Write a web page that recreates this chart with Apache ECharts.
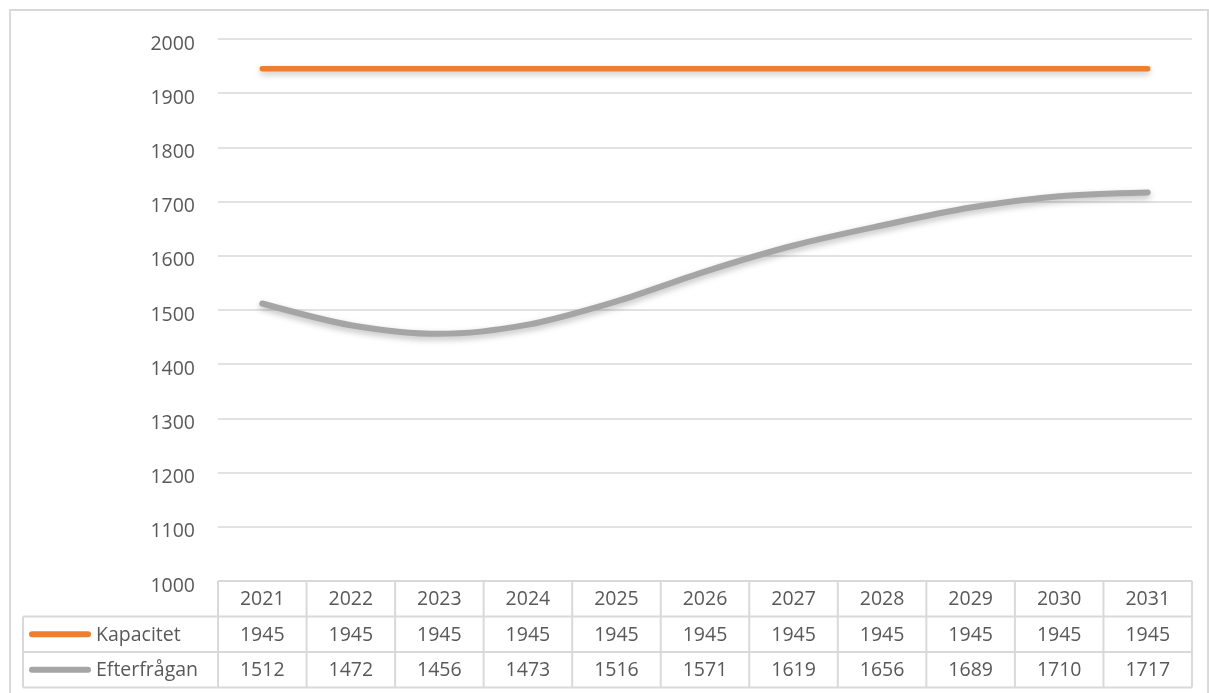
<!DOCTYPE html>
<html>
<head>
<meta charset="utf-8">
<script src="https://cdn.jsdelivr.net/npm/echarts@6/dist/echarts.min.js"></script>
<style>html,body{margin:0;padding:0;background:#fff;}#c{width:1209px;height:693px;}</style>
</head>
<body>
<div id="c"></div>
<script>
const years = ['2021','2022','2023','2024','2025','2026','2027','2028','2029','2030','2031'];
const kapacitet = [1945,1945,1945,1945,1945,1945,1945,1945,1945,1945,1945];
const efterfragan = [1512,1472,1456,1473,1516,1571,1619,1656,1689,1710,1717];
const seriesNames = ['Kapacitet','Efterfrågan'];
const seriesColors = ['#ED7D31','#A5A5A5'];

const FONT = 'Open Sans';
const FS = 19.5;
const TXT = '#595959';
const LINE = '#D9D9D9';

const chart = echarts.init(document.getElementById('c'), null, {renderer:'canvas'});
chart.setOption({
  animation:false,
  backgroundColor:'#fff',
  grid:{left:218,right:17,top:39,bottom:112},
  xAxis:{type:'category',data:years,boundaryGap:true,
    axisLine:{show:false},axisTick:{show:false},axisLabel:{show:false},splitLine:{show:false}},
  yAxis:{type:'value',min:1000,max:2000,interval:100,
    axisLine:{show:false},axisTick:{show:false},
    splitLine:{lineStyle:{color:LINE,width:1.5}},
    axisLabel:{color:TXT,fontFamily:FONT,fontSize:FS,margin:23,
      formatter:function(v){return '{a|'+v+'}';},
      rich:{a:{color:TXT,fontFamily:FONT,fontSize:FS,padding:[10,0,0,0]}}}},
  series:[
    {name:seriesNames[0],type:'line',data:kapacitet,symbol:'none',
      lineStyle:{color:seriesColors[0],width:5.5,cap:'round',shadowColor:'rgba(0,0,0,0.22)',shadowBlur:6,shadowOffsetY:3}},
    {name:seriesNames[1],type:'line',data:efterfragan,symbol:'none',smooth:0.3,
      lineStyle:{color:seriesColors[1],width:6,cap:'round',shadowColor:'rgba(0,0,0,0.25)',shadowBlur:6,shadowOffsetY:3}}
  ]
});

// Build data table below the plot from the same arrays, using axis positions
function buildTable(){
  const els = [];
  const c0 = chart.convertToPixel({xAxisIndex:0}, 0);
  const c1 = chart.convertToPixel({xAxisIndex:0}, 1);
  const w = c1 - c0;
  const top = chart.convertToPixel({yAxisIndex:0}, 1000);
  const rowH = 35.5;
  const leftX = 23;
  const tableL = c0 - w/2;
  const tableR = chart.convertToPixel({xAxisIndex:0}, years.length-1) + w/2;
  const ls = {stroke:LINE,lineWidth:2};
  els.push({type:'line',shape:{x1:tableL,y1:top,x2:tableR,y2:top},style:ls,z:1});
  for(let r=1;r<=3;r++){
    els.push({type:'line',shape:{x1:leftX,y1:top+rowH*r,x2:tableR,y2:top+rowH*r},style:ls,z:1});
  }
  els.push({type:'line',shape:{x1:leftX,y1:top+rowH,x2:leftX,y2:top+rowH*3},style:ls,z:1});
  for(let i=0;i<=years.length;i++){
    const x = tableL + w*i;
    els.push({type:'line',shape:{x1:x,y1:top,x2:x,y2:top+rowH*3},style:ls,z:1});
  }
  const rows = [years, kapacitet, efterfragan];
  rows.forEach((row,r)=>{
    row.forEach((v,i)=>{
      els.push({type:'text',x:chart.convertToPixel({xAxisIndex:0}, i),y:top+rowH*r+rowH/2+1,
        style:{text:String(v),fill:TXT,font:FS+'px "'+FONT+'"',align:'center',verticalAlign:'middle'},z:2});
    });
  });
  seriesNames.forEach((n,k)=>{
    const cy = top+rowH*(k+1)+rowH/2;
    els.push({type:'line',shape:{x1:32,y1:cy,x2:88,y2:cy},style:{stroke:seriesColors[k],lineWidth:6,lineCap:'round'},z:2});
    els.push({type:'text',x:96,y:cy+1,style:{text:n,fill:TXT,font:FS+'px "'+FONT+'"',align:'left',verticalAlign:'middle'},z:2});
  });
  els.push({type:'rect',shape:{x:10,y:10,width:1198,height:700},style:{fill:'none',stroke:LINE,lineWidth:2},z:0,silent:true});
  chart.setOption({graphic:els});
}
buildTable();
</script>
</body>
</html>
